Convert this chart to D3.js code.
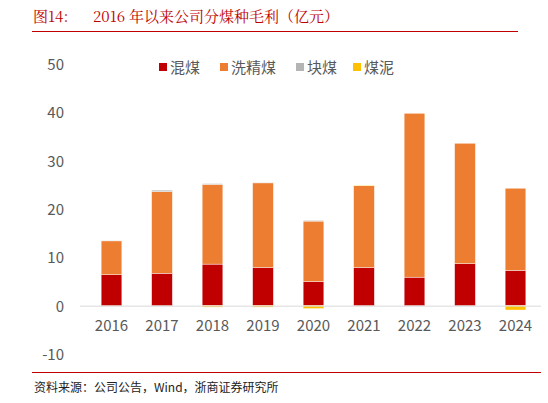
<!DOCTYPE html>
<html><head><meta charset="utf-8">
<script src="https://cdn.jsdelivr.net/npm/d3@7"></script>
<style>body{margin:0;background:#fff}</style>
</head><body><svg id="c" width="548" height="403"></svg>
<script>
var years = ["2016","2017","2018","2019","2020","2021","2022","2023","2024"];
var seriesNames = ["混煤","洗精煤","块煤","煤泥"];
var colors = ["#c00000","#ed7d31","#b4b4b4","#ffc000"];
var mixed = [6.4,6.7,8.6,7.9,5.0,7.9,5.9,8.7,7.3];
var washed = [7.0,16.9,16.5,17.5,12.5,16.9,33.9,24.9,17.0];
var lump = [0.1,0.3,0.15,0.1,0.15,0,0,0,0];
var slurry = [0,0,-0.3,-0.3,-0.6,0.15,0,0,-0.9];
var yTicks = [-10,0,10,20,30,40,50];

var svg = d3.select("#c");
var font = "'Noto Sans CJK SC','Noto Sans',sans-serif";
var serif = "'Noto Serif CJK SC','Liberation Serif','Noto Sans CJK SC',serif";

svg.append("text").attr("x",33).attr("y",22).attr("fill","#c00000")
  .style("font-family",serif).style("font-size","15px").text("图14:");
svg.append("text").attr("x",93).attr("y",22).attr("fill","#c00000")
  .style("font-family",serif).style("font-size","15px").text("2016 年以来公司分煤种毛利（亿元）");
svg.append("line").attr("x1",32).attr("x2",518).attr("y1",31.5).attr("y2",31.5).attr("stroke","#c00000").attr("stroke-width",1);
svg.append("line").attr("x1",32).attr("x2",541).attr("y1",372.5).attr("y2",372.5).attr("stroke","#c00000").attr("stroke-width",1);
svg.append("text").attr("x",34).attr("y",392).attr("fill","#222").style("font-family",font).style("font-size","12px")
  .text("资料来源：公司公告，Wind，浙商证券研究所");

var x = d3.scaleBand().domain(years).range([86,541]).paddingInner(0.59).paddingOuter(0.3);
var y = d3.scaleLinear().domain([-10,50]).range([354,64]);

svg.append("g").selectAll("text").data(yTicks).enter().append("text")
  .attr("x",64).attr("y",function(d){return y(d)+6;}).attr("text-anchor","end")
  .attr("fill","#595959").style("font-family",font).style("font-size","15px").text(function(d){return d;});

var rows = years.map(function(yr,i){return {yr:yr, vals:[mixed[i],washed[i],lump[i],slurry[i]]};});
rows.forEach(function(r){
  var pos = 0, neg = 0;
  r.vals.forEach(function(v,k){
    var y0, y1;
    if (v >= 0){ y0 = pos; y1 = pos + v; pos = y1; } else { y0 = neg; y1 = neg + v; neg = y1; }
    if (v === 0) return;
    svg.append("rect").attr("x",x(r.yr)).attr("width",x.bandwidth())
      .attr("y",y(Math.max(y0,y1))).attr("height",Math.abs(y(y0)-y(y1)))
      .attr("fill",colors[k]).attr("stroke","#fff").attr("stroke-width",0.4);
  });
});

svg.append("line").attr("x1",80).attr("x2",541).attr("y1",y(0)+0.5).attr("y2",y(0)+0.5).attr("stroke","#d9d9d9");
svg.append("g").selectAll("text").data(years).enter().append("text")
  .attr("x",function(d){return x(d)+x.bandwidth()/2;}).attr("y",331).attr("text-anchor","middle")
  .attr("fill","#595959").style("font-family",font).style("font-size","15px").text(function(d){return d;});

var lg = svg.append("g").attr("transform","translate(159,68)");
var lx = [0,61,137,194];
seriesNames.forEach(function(n,i){
  lg.append("rect").attr("x",lx[i]).attr("y",-5).attr("width",8).attr("height",8).attr("fill",colors[i]);
  lg.append("text").attr("x",lx[i]+11).attr("y",5).attr("fill","#595959").style("font-family",font).style("font-size","15px").text(n);
});
</script></body></html>
